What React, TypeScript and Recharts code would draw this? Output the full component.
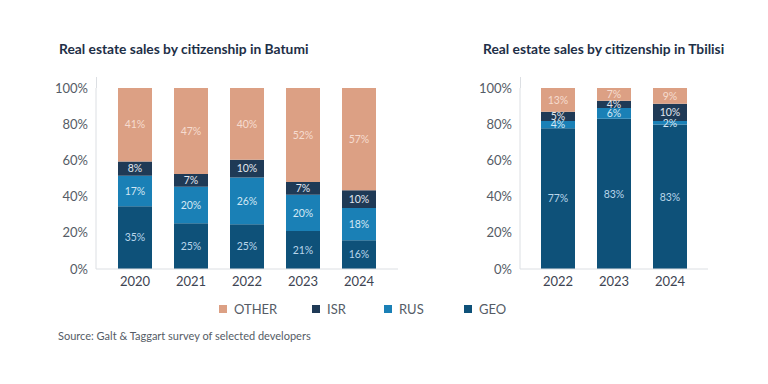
import { BarChart, Bar, XAxis, YAxis, LabelList } from 'recharts';

const batumiYears = ['2020', '2021', '2022', '2023', '2024'];
const batumiGeo = [35, 25, 25, 21, 16];
const batumiRus = [17, 20, 26, 20, 18];
const batumiIsr = [8, 7, 10, 7, 10];
const batumiOther = [41, 47, 40, 52, 57];

const tbilisiYears = ['2022', '2023', '2024'];
const tbilisiGeo = [77, 83, 83];
const tbilisiRus = [4, 6, 2];
const tbilisiIsr = [5, 4, 10];
const tbilisiOther = [13, 7, 9];

const yTicks = [0, 0.2, 0.4, 0.6, 0.8, 1];

// stack order bottom -> top
const SERIES = [
  { key: 'geo', name: 'GEO', color: '#0e5179', label: '#b9d6ea' },
  { key: 'rus', name: 'RUS', color: '#1a80b6', label: '#d3e8f4' },
  { key: 'isr', name: 'ISR', color: '#1f3a56', label: '#e2e8ef' },
  { key: 'other', name: 'OTHER', color: '#dca084', label: '#f6dccf' },
];

const FONT = 'Lato, "Open Sans", sans-serif';
const AXIS = '#dcdfe3';

const buildRows = (years: string[], geo: number[], rus: number[], isr: number[], other: number[]) =>
  years.map((year, i) => ({ year, geo: geo[i], rus: rus[i], isr: isr[i], other: other[i] }));

const batumiData = buildRows(batumiYears, batumiGeo, batumiRus, batumiIsr, batumiOther);
const tbilisiData = buildRows(tbilisiYears, tbilisiGeo, tbilisiRus, tbilisiIsr, tbilisiOther);

interface StackProps {
  data: Record<string, string | number>[];
  width: number;
  marginLeft: number;
  padding: number;
}

const StackChart = ({ data, width, marginLeft, padding }: StackProps) => (
  <BarChart
    width={width}
    height={300}
    data={data}
    stackOffset="expand"
    barSize={34}
    margin={{ top: 88, right: 12, left: marginLeft, bottom: 1 }}
  >
    <XAxis
      dataKey="year"
      axisLine={{ stroke: AXIS }}
      tickLine={false}
      padding={{ left: padding, right: padding }}
      tick={{ fill: '#3d4452', fontSize: 13, fontFamily: FONT }}
      height={30}
    />
    <YAxis
      ticks={yTicks}
      axisLine={{ stroke: AXIS }}
      tickLine={false}
      width={60}
      tickFormatter={(v: number) => `${Math.round(v * 100)}%`}
      tick={{ fill: '#555c66', fontSize: 13, fontFamily: FONT }}
    />
    {SERIES.map((s) => (
      <Bar key={s.key} dataKey={s.key} name={s.name} stackId="a" fill={s.color} isAnimationActive={false}>
        <LabelList
          dataKey={s.key}
          position="center"
          formatter={(v: number) => `${v}%`}
          style={{ fill: s.label, fontSize: 10.5, fontFamily: FONT }}
        />
      </Bar>
    ))}
  </BarChart>
);

const legendOrder = ['OTHER', 'ISR', 'RUS', 'GEO'];
const legendX = [219, 312, 384, 464];

const App = () => (
  <div
    style={{
      position: 'fixed',
      left: 0,
      top: 0,
      width: 768,
      height: 384,
      background: '#fff',
      fontFamily: FONT,
      overflow: 'hidden',
    }}
  >
    <div style={{ position: 'absolute', left: 59, top: 40, fontSize: 13.8, fontWeight: 700, color: '#1e2f47' }}>
      Real estate sales by citizenship in Batumi
    </div>
    <div style={{ position: 'absolute', left: 483, top: 40, fontSize: 13.8, fontWeight: 700, color: '#1e2f47' }}>
      Real estate sales by citizenship in Tbilisi
    </div>
    <div style={{ position: 'absolute', left: 0, top: 0 }}>
      <StackChart data={batumiData} width={410} marginLeft={36} padding={11} />
    </div>
    <div style={{ position: 'absolute', left: 440, top: 0 }}>
      <StackChart data={tbilisiData} width={280} marginLeft={20} padding={10} />
    </div>
    {/* axis lines run a little above the 100% line */}
    <div style={{ position: 'absolute', left: 96, top: 77, width: 1, height: 11, background: AXIS }} />
    <div style={{ position: 'absolute', left: 520, top: 77, width: 1, height: 11, background: AXIS }} />
    {legendOrder.map((name, i) => {
      const s = SERIES.find((x) => x.name === name)!;
      return (
        <div
          key={name}
          style={{
            position: 'absolute',
            left: legendX[i],
            top: 301,
            display: 'flex',
            alignItems: 'center',
            fontSize: 13,
            color: '#555c66',
          }}
        >
          <span style={{ display: 'inline-block', width: 8, height: 8, background: s.color, marginRight: 7 }} />
          {name}
        </div>
      );
    })}
    <div style={{ position: 'absolute', left: 58, top: 329, fontSize: 11, color: '#555c66' }}>
      Source: Galt &amp; Taggart survey of selected developers
    </div>
  </div>
);

export default App;
